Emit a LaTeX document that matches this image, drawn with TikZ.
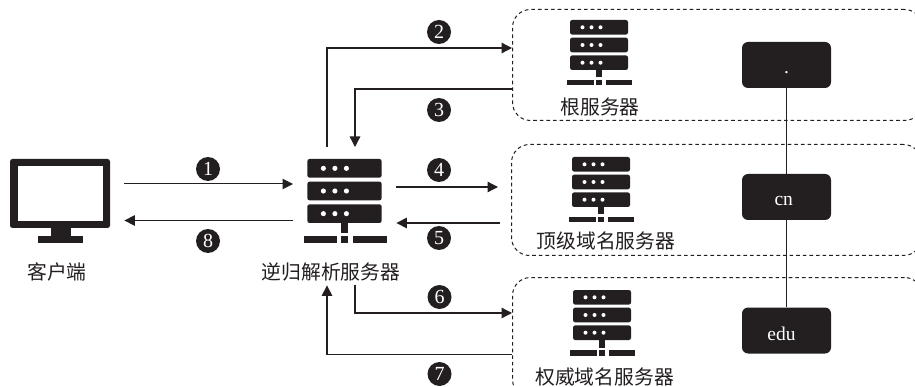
\documentclass[tikz,border=0pt]{standalone}
\usepackage{fontspec}
\setmainfont{Liberation Serif}
\newfontfamily\cjkfont{Noto Sans CJK SC}
\usetikzlibrary{arrows.meta}
\definecolor{ink}{HTML}{231F20}
\newcommand{\serverat}[3]{% centre x, top y, scale
  \begin{scope}[shift={(#1,#2)},x=#3pt,y=-#3pt]
    \foreach \r in {0,17.7,35.4}{
      \fill[ink,rounded corners=2.2pt] (-29,\r) rectangle (29,\r+14.6);
      \foreach \d in {-16.5,-7.5,1.5} \fill[white] (\d,\r+7.3) circle[radius=2];
    }
    \fill[ink] (-2.7,50) rectangle (2.7,57.5);
    \fill[ink] (-32,60) rectangle (-5.5,65.5);
    \fill[ink] (-2.7,60) rectangle (2.7,65.5);
    \fill[ink] (7,60) rectangle (33,65.5);
  \end{scope}}
\newcommand{\leveltext}[3]{\smash{\raisebox{#1}{\makebox[0pt]{\hspace{#2}#3}}}}
\tikzset{
  flow/.style={draw=ink,line width=1.3pt,-{Triangle[length=10.5pt,width=10.5pt]}},
  flowthin/.style={draw=ink,line width=1pt,-{Triangle[length=10.5pt,width=10.5pt]}},
  badge/.style={circle,fill=ink,text=white,inner sep=0pt,minimum size=24pt,font=\fontsize{20}{20}\selectfont},
  zone/.style={draw=ink,line width=1pt,dash pattern=on 3.6pt off 3pt,rounded corners=18pt,inner sep=0pt,anchor=north west},
  ghost/.style={inner sep=0pt,anchor=north west},
  label/.style={font=\cjkfont\fontsize{19.8}{20}\selectfont,text=ink,inner sep=0pt},
  level/.style={fill=ink,text=white,rounded corners=6pt,minimum width=89pt,minimum height=46pt,inner sep=0pt,font=\fontsize{19.5}{19.5}\selectfont},
  tree/.style={draw=ink,line width=1pt}
}
\begin{document}
\begin{tikzpicture}[x=1pt,y=-1pt]
\useasboundingbox (0,0) rectangle (915,387);
\clip (0,0) rectangle (915,387);
\fill[white] (0,0) rectangle (915,387);

% zones
\node[zone,minimum width=410pt,minimum height=111pt] (rootzone) at (512,9) {};
\node[zone,minimum width=410pt,minimum height=111pt] (tldzone) at (511,144) {};
\node[zone,minimum width=410pt,minimum height=120pt] (authzone) at (512,277) {};

% client
\node[ghost,minimum width=114pt,minimum height=84pt] (client) at (10,159) {};
\fill[ink,rounded corners=2.5pt] (10,159) rectangle (110,228);
\fill[white] (18,166) rectangle (103,221);
\fill[ink] (51,228) rectangle (71,237);
\fill[ink] (38,236) rectangle (83,243);
\node[label] (clientlabel) at (57,272) {客户端};

% recursive server
\node[ghost,minimum width=103pt,minimum height=138pt] (recursive) at (293,147) {};
\serverat{344.5}{159}{1.28}
\node[label] (recursivelabel) at (331,272) {逆归解析服务器};

% other servers
\serverat{599}{20}{1}
\node[label] (rootlabel) at (600,107) {根服务器};
\serverat{601}{157}{1}
\node[label] (tldlabel) at (606,241) {顶级域名服务器};
\serverat{602}{290}{1}
\node[label] (authlabel) at (604.5,377) {权威域名服务器};

% domain tree
\node[level] (dot) at (786.5,65) {\leveltext{-9pt}{0pt}{.}};
\node[level] (cn) at (786.5,197) {\leveltext{-9pt}{-5.6pt}{cn}};
\node[level] (edu) at (786.5,330.5) {\leveltext{-9.5pt}{-10pt}{edu}};
\draw[tree] (dot.south) -- (cn.north);
\draw[tree,line width=1.3pt] (cn.south) -- (edu.north);

% connectors
\draw[flowthin] (client.east |- 0,184) -- (recursive.west |- 0,184);
\draw[flow] (recursive.west |- 0,220.5) -- (client.east |- 0,220.5);
\draw[flow] (recursive.north -| 327,0) -- (327,48) -- (rootzone.west |- 0,48);
\draw[flow] (rootzone.west |- 0,89) -- (355,89) -- (recursive.north -| 355,0);
\draw[flow,shorten >=13pt] (recursive.east |- 0,187) -- (tldzone.west |- 0,187);
\draw[flow,shorten <=11pt] (tldzone.west |- 0,223) -- (recursive.east |- 0,223);
\draw[flow] (recursive.south -| 355,0) -- (355,313) -- (authzone.west |- 0,313);
\draw[flow] (authzone.west |- 0,354.5) -- (327,354.5) -- (recursive.south -| 327,0);

% badges
\node[badge] (n1) at (208,169) {1};
\node[badge] (n2) at (439,32) {2};
\node[badge] (n3) at (439,110) {3};
\node[badge] (n4) at (439,170) {4};
\node[badge] (n5) at (439,238) {5};
\node[badge] (n6) at (439.5,297) {6};
\node[badge] (n7) at (439.5,374) {7};
\node[badge] (n8) at (208,241) {8};
\end{tikzpicture}
\end{document}
